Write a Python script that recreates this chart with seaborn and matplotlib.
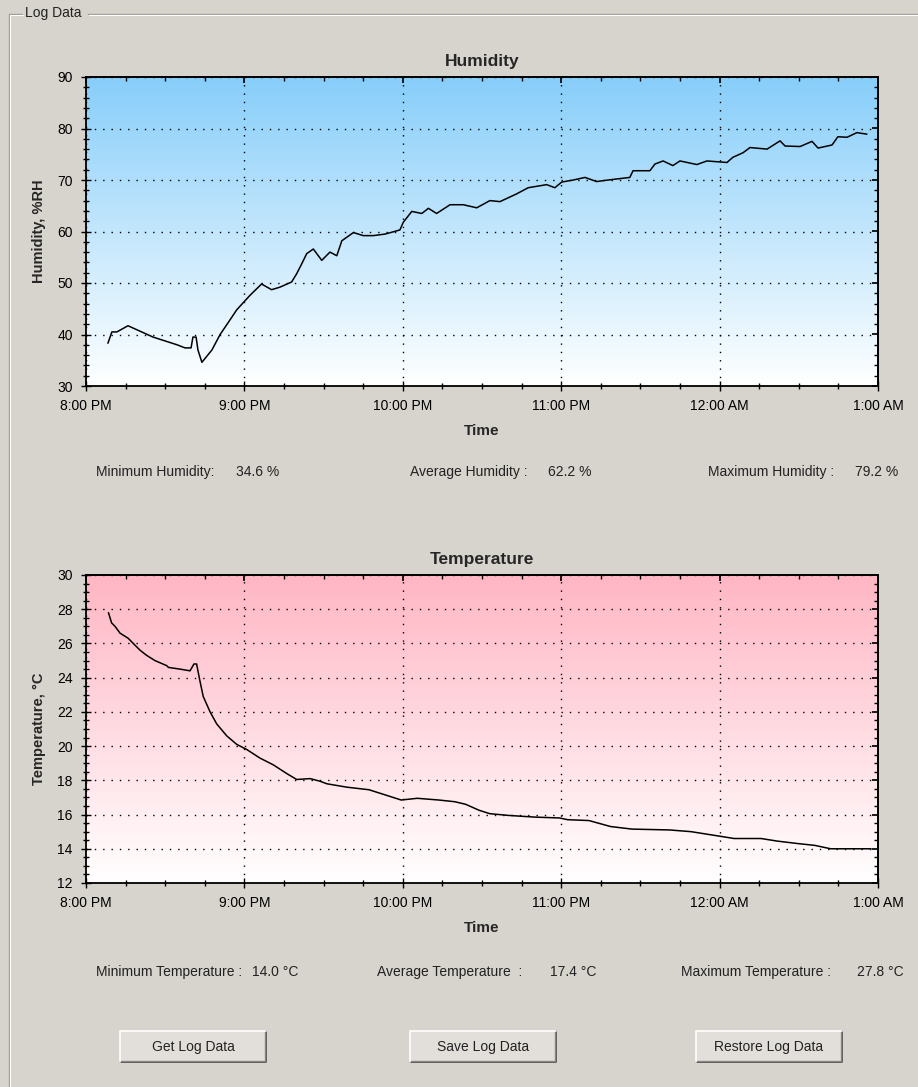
import numpy as np
import matplotlib
matplotlib.use('Agg')
import matplotlib.pyplot as plt
from matplotlib.colors import LinearSegmentedColormap
from matplotlib.patches import Rectangle
from matplotlib.lines import Line2D
from matplotlib.ticker import MultipleLocator
import seaborn as sns

# readings, minutes after 8:00 PM
hum_minutes = [8.3, 9.8, 11.7, 15.9, 25.4, 34.5, 37.5, 39.8, 40.5, 41.7, 42.4, 43.9, 47.7, 50.8,
               54.5, 57.1, 62.1, 66.5, 70.3, 73.5, 77.9, 79.8, 81.7, 83.6, 86.1, 89.3, 92.4, 95.0,
               96.9, 101.3, 105.0, 108.8, 113.3, 118.9, 120.2, 123.4, 127.2, 129.7, 132.8, 137.9,
               142.9, 148.0, 153.0, 156.8, 163.1, 167.5, 174.5, 177.6, 180.2, 184.6, 189.0, 193.4,
               197.8, 206.0, 207.2, 213.6, 215.5, 218.6, 222.3, 225.0, 231.4, 235.2, 242.8, 245.0,
               248.9, 251.5, 258.0, 262.9, 264.8, 270.5, 275.0, 277.3, 282.6, 284.8, 288.3, 292.0,
               295.8]
hum_values = [38.3, 40.5, 40.5, 41.7, 39.5, 38.0, 37.4, 37.4, 39.5, 39.5, 37.0, 34.6, 37.0, 40.0,
              42.8, 44.8, 47.6, 49.8, 48.7, 49.2, 50.2, 51.8, 53.7, 55.7, 56.6, 54.4, 56.0, 55.3,
              58.2, 59.8, 59.2, 59.2, 59.5, 60.3, 61.8, 63.9, 63.5, 64.5, 63.5, 65.2,
              65.2, 64.6, 66.0, 65.8, 67.3, 68.5, 69.1, 68.5, 69.6, 70.0, 70.5, 69.7,
              70.0, 70.5, 71.8, 71.8, 73.1, 73.7, 72.8, 73.7, 73.0, 73.7, 73.4, 74.4,
              75.3, 76.3, 76.0, 77.6, 76.6, 76.5, 77.5, 76.2, 76.8, 78.4, 78.3, 79.2,
              78.9]

temp_minutes = [8.5, 9.7, 11.0, 12.9, 16.0, 17.9, 20.5, 23.0, 26.1, 30.6, 31.2, 35.6, 39.4, 40.9,
                41.9, 42.9, 44.4, 47.0, 49.5, 53.3, 57.1, 60.9, 65.9, 71.0, 76.0, 79.8, 84.9,
                88.6, 91.2, 98.8, 107.2, 113.3, 119.4, 125.5, 133.6, 139.7, 143.8, 148.9, 153.0,
                160.0, 170.2, 179.4, 182.4, 190.5, 198.7, 206.8, 221.1, 229.2, 237.4, 245.5,
                255.7, 261.8, 269.9, 276.0, 282.1, 292.3, 297.4]
temp_values = [27.8, 27.2, 27.0, 26.6, 26.3, 26.0, 25.6, 25.3, 25.0, 24.7, 24.6, 24.5, 24.4, 24.8,
               24.8, 24.0, 22.9, 22.0, 21.3, 20.6, 20.1, 19.8, 19.3, 18.9, 18.4, 18.05, 18.1,
               17.95, 17.8, 17.6, 17.45, 17.15, 16.85, 16.95, 16.85, 16.75, 16.6, 16.25, 16.05,
               15.95, 15.85, 15.8, 15.7, 15.65, 15.3, 15.15, 15.1, 15.0, 14.8, 14.6,
               14.6, 14.45, 14.3, 14.2, 14.0, 14.0, 14.0]

time_ticks = [0, 60, 120, 180, 240, 300]
time_labels = ['8:00 PM', '9:00 PM', '10:00 PM', '11:00 PM', '12:00 AM', '1:00 AM']

hum_stats = [('Minimum Humidity:', '34.6 %'), ('Average Humidity :', '62.2 %'),
             ('Maximum Humidity :', '79.2 %')]
temp_stats = [('Minimum Temperature :', '14.0 °C'), ('Average Temperature  :', '17.4 °C'),
              ('Maximum Temperature :', '27.8 °C')]
buttons = ['Get Log Data', 'Save Log Data', 'Restore Log Data']

sns.set_theme(style='ticks')
plt.rcParams['font.family'] = ['Liberation Sans', 'DejaVu Sans']

W, H = 918, 1087
bg = '#d7d3cd'
fig = plt.figure(figsize=(W / 100, H / 100), dpi=100, facecolor=bg)


def fx(x):
    return x / W


def fy(y):
    return 1 - y / H


def make_chart(top, bottom, minutes, values, ylo, yhi, ystep, yminor, color, title, ylabel):
    ax = fig.add_axes([fx(86), fy(bottom), fx(878) - fx(86), fy(top) - fy(bottom)])
    cmap = LinearSegmentedColormap.from_list('bg', ['white', color])
    grad = np.linspace(0, 1, 256).reshape(-1, 1)
    ax.imshow(grad, extent=[0, 300, ylo, yhi], origin='lower', aspect='auto',
              cmap=cmap, zorder=0)
    sns.lineplot(x=minutes, y=values, color='black', linewidth=1.1, ax=ax, zorder=3)
    ax.set_xlim(0, 300)
    ax.set_ylim(ylo, yhi)
    ax.set_xticks(time_ticks)
    ax.set_xticklabels(time_labels)
    ax.set_yticks(np.arange(ylo, yhi + 0.1, ystep))
    ax.xaxis.set_minor_locator(MultipleLocator(15))
    ax.yaxis.set_minor_locator(MultipleLocator(yminor))
    ax.grid(True, which='major', color='black', linestyle=(0, (1, 5)), linewidth=1.0)
    ax.tick_params(which='major', direction='inout', length=7, width=1, colors='black',
                   labelsize=10, pad=6)
    ax.tick_params(which='minor', direction='inout', length=5, width=1, colors='black')
    for s in ax.spines.values():
        s.set_color('black')
        s.set_linewidth(1.3)
    # ticks on the opposite sides, pointing in
    sx = ax.secondary_xaxis('top')
    sx.set_xticks(time_ticks)
    sx.xaxis.set_minor_locator(MultipleLocator(15))
    sx.tick_params(which='both', direction='in', labeltop=False, colors='black')
    sx.tick_params(which='major', length=4)
    sx.tick_params(which='minor', length=3)
    sy = ax.secondary_yaxis('right')
    sy.set_yticks(np.arange(ylo, yhi + 0.1, ystep))
    sy.yaxis.set_minor_locator(MultipleLocator(yminor))
    sy.tick_params(which='both', direction='in', labelright=False, colors='black')
    sy.tick_params(which='major', length=4)
    sy.tick_params(which='minor', length=3)
    ax.set_title(title, fontsize=12.5, fontweight='bold', pad=8)
    ax.set_xlabel('Time', fontsize=11, fontweight='bold')
    ax.xaxis.set_label_coords(0.5, -38 / (bottom - top))
    ax.set_ylabel(ylabel, fontsize=10.5, fontweight='bold')
    ax.yaxis.set_label_coords(-0.05, 0.5)
    return ax


ax_h = make_chart(77, 386, hum_minutes, hum_values, 30, 90, 10, 2, '#87cefa',
                  'Humidity', 'Humidity, %RH')
ax_t = make_chart(575, 883, temp_minutes, temp_values, 12, 30, 2, 0.5, '#ffb6c4',
                  'Temperature', 'Temperature, °C')

# statistics rows
label_x = [96, 410, 708]
value_x = [236, 548, 855]
for (lab, val), lx, vx in zip(hum_stats, label_x, value_x):
    fig.text(fx(lx), fy(472), lab, fontsize=10, va='center', ha='left', color='#222222')
    fig.text(fx(vx), fy(472), val, fontsize=10, va='center', ha='left', color='#222222')

tlabel_x = [96, 377, 681]
tvalue_x = [252, 550, 857]
for (lab, val), lx, vx in zip(temp_stats, tlabel_x, tvalue_x):
    fig.text(fx(lx), fy(972), lab, fontsize=10, va='center', ha='left', color='#222222')
    fig.text(fx(vx), fy(972), val, fontsize=10, va='center', ha='left', color='#222222')

# group box (top and left edges are visible)
edge = '#a09c96'
for xs, ys in [([9, 22], [14, 14]), ([88, 918], [14, 14]), ([9, 9], [14, 1087])]:
    fig.add_artist(Line2D([fx(v) for v in xs], [fy(v) for v in ys], color=edge, lw=1))
    fig.add_artist(Line2D([fx(v + 1) for v in xs], [fy(v + 1) for v in ys], color='white', lw=0.8))
fig.text(fx(25), fy(13), 'Log Data', fontsize=10, va='center', ha='left', color='#222222')

# buttons
btn_x = [120, 410, 696]
for name, bx in zip(buttons, btn_x):
    x0, x1, y0, y1 = bx, bx + 146, 1031, 1062
    fig.add_artist(Rectangle((fx(x0), fy(y1)), fx(x1) - fx(x0), fy(y0) - fy(y1),
                             facecolor='#e2dfda', edgecolor='none', transform=fig.transFigure))
    fig.add_artist(Line2D([fx(x0), fx(x1), fx(x1)], [fy(y1), fy(y1), fy(y0)], color='#404040', lw=1.2))
    fig.add_artist(Line2D([fx(x0 + 1), fx(x1 - 1), fx(x1 - 1)], [fy(y1 - 1), fy(y1 - 1), fy(y0 + 1)],
                          color='#8a8782', lw=1))
    fig.add_artist(Line2D([fx(x0), fx(x0), fx(x1)], [fy(y1), fy(y0), fy(y0)], color='white', lw=1.2))
    fig.text(fx((x0 + x1) / 2), fy((y0 + y1) / 2), name, fontsize=10, ha='center', va='center',
             color='#222222')

fig.savefig('out.png', dpi=100, facecolor=bg)
